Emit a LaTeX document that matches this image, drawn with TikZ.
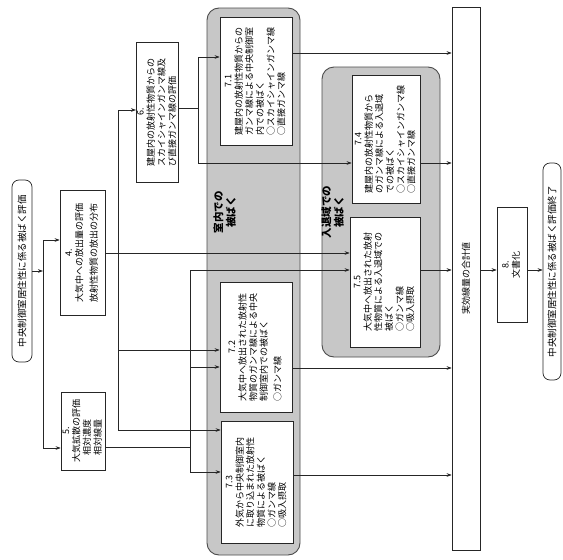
\documentclass[tikz,border=0pt]{standalone}
\usepackage{fontspec}
\setmainfont{Noto Sans CJK JP}
\usepackage{graphicx}
\usetikzlibrary{arrows.meta}
\newcommand\vtext[1]{\rotatebox{90}{\begin{tabular}{@{}l@{}}#1\end{tabular}}}
\newcommand\vctext[1]{\rotatebox{90}{\begin{tabular}{@{}c@{}}#1\end{tabular}}}
\newcommand\numc[1]{\multicolumn{1}{@{}c@{}}{#1}}
\tikzset{
  box/.style={draw=black!85, line width=0.7pt, fill=white, inner sep=0pt,
    font=\fontsize{9}{10.3}\selectfont},
  rbox/.style={box, rounded corners=7pt, font=\fontsize{9.5}{11}\selectfont},
  region/.style={draw=black!70, line width=0.9pt, fill=black!22, rounded corners=12pt, inner sep=0pt},
  rlabel/.style={font=\fontsize{10.5}{12}\selectfont\bfseries, inner sep=0pt},
  conn/.style={draw=black!85, line width=0.6pt},
  arr/.style={conn, -{Stealth[length=5pt,width=3.6pt]}},
}
\begin{document}
\begin{tikzpicture}[x=1pt,y=-1pt]
\useasboundingbox (0,0) rectangle (563,560);
\fill[white] (0,0) rectangle (563,560);

% shaded regions
\node[region, minimum width=93pt, minimum height=547pt] (r1) at (253.5,281.5) {};
\node[region, minimum width=118pt, minimum height=290pt] (r2) at (381,212) {};
\node[rlabel] (l1) at (226,212) {\vctext{室内での\\被ばく}};
\node[rlabel] (l2) at (334,212) {\vctext{入退域での\\被ばく}};

% boxes
\node[rbox, minimum width=20pt, minimum height=182pt] (start) at (22,271)
  {\rotatebox{90}{中央制御室居住性に係る被ばく評価}};
\node[box, minimum width=45pt, minimum height=125pt] (b4) at (82.5,252.5)
  {\vtext{\numc{4.}\\大気中への放出量の評価\\[4pt]放射性物質の放出の分布}};
\node[box, minimum width=44pt, minimum height=78pt] (b5) at (83,431)
  {\vtext{\numc{5.}\\大気拡散の評価\\\hspace{7pt}相対濃度\\\hspace{7pt}相対線量}};
\node[box, minimum width=41pt, minimum height=140pt] (b6) at (157.5,112)
  {\vtext{\numc{6.}\\建屋内の放射性物質からの\\スカイシャインガンマ線及\\び直接ガンマ線の評価}};
\node[box, minimum width=72pt, minimum height=128pt] (b71) at (256,81)
  {\vtext{\numc{7.1}\\建屋内の放射性物質からの\\ガンマ線による中央制御室\\内での被ばく\\○スカイシャインガンマ線\\○直接ガンマ線}};
\node[box, minimum width=72pt, minimum height=130pt] (b72) at (256,347)
  {\vtext{\numc{7.2}\\大気中へ放出された放射性\\物質のガンマ線による中央\\制御室内での被ばく\\[3pt]○ガンマ線}};
\node[box, minimum width=72pt, minimum height=122pt] (b73) at (257,482)
  {\vtext{\numc{7.3}\\外気から中央制御室内\\に取り込まれた放射性\\物質による被ばく\\○ガンマ線\\○吸入摂取}};
\node[box, minimum width=68pt, minimum height=128pt] (b74) at (386,139)
  {\vtext{\numc{7.4}\\建屋内の放射性物質から\\のガンマ線による入退域\\での被ばく\\○スカイシャインガンマ線\\○直接ガンマ線}};
\node[box, minimum width=70pt, minimum height=130pt] (b75) at (385,282)
  {\vtext{\numc{7.5}\\大気中へ放出された放射\\性物質による入退域での\\被ばく\\○ガンマ線\\○吸入摂取}};
\node[box, minimum width=28pt, minimum height=543pt] (btot) at (466,278.5)
  {\rotatebox{90}{実効線量の合計値}};
\node[box, minimum width=30pt, minimum height=115pt] (b8) at (512,264.5)
  {\vtext{\numc{8.}\\文書化}};
\node[rbox, minimum width=18pt, minimum height=217pt] (end) at (552,271.5)
  {\rotatebox{90}{中央制御室居住性に係る被ばく評価終了}};

% start branch
\coordinate (a1) at (43,240);
\coordinate (a2) at (43,448);
\draw[conn] (a1) -- (a2);
\draw[arr] (start.east) -- (start.east -| a1);
\draw[arr] (a1) -- (a1 -| b4.west);
\draw[arr] (a2) -- (a2 -| b5.west);

% from 4
\coordinate (y253) at (0,253);
\draw[arr] (b4.east |- y253) -- (b75.west |- y253);
\coordinate (c1) at (118,110);
\coordinate (c2) at (118,350);
\coordinate (c3) at (118,430);
\draw[conn] (c1) -- (c3);
\draw[arr] (c1) -- (c1 -| b6.west);
\draw[arr] (c2) -- (c2 -| b72.west);
\draw[arr] (c3) -- (c3 -| b73.west);

% from 5
\coordinate (d0) at (190,447);
\coordinate (d1) at (190,270);
\coordinate (d2) at (190,367);
\coordinate (d3) at (190,472);
\draw[conn] (b5.east |- d0) -- (d0);
\draw[conn] (d1) -- (d3);
\draw[arr] (d1) -- (d1 -| b75.west);
\draw[arr] (d2) -- (d2 -| b72.west);
\draw[arr] (d3) -- (d3 -| b73.west);

% from 6
\coordinate (e0) at (198,108);
\coordinate (e1) at (198,57);
\coordinate (e2) at (198,163);
\draw[conn] (b6.east |- e0) -- (e0);
\draw[conn] (e1) -- (e2);
\draw[arr] (e1) -- (e1 -| b71.west);
\draw[arr] (e2) -- (e2 -| b74.west);

% to total
\coordinate (o1) at (0,53);
\coordinate (o2) at (0,163);
\coordinate (o3) at (0,270);
\coordinate (o4) at (0,368);
\coordinate (o5) at (0,475);
\draw[arr] (b71.east |- o1) -- (btot.west |- o1);
\draw[arr] (b74.east |- o2) -- (btot.west |- o2);
\draw[arr] (b75.east |- o3) -- (btot.west |- o3);
\draw[arr] (b72.east |- o4) -- (btot.west |- o4);
\draw[arr] (b73.east |- o5) -- (btot.west |- o5);
\draw[arr] (btot.east |- o3) -- (b8.west |- o3);
\draw[arr] (b8.east |- o3) -- (end.west |- o3);
\end{tikzpicture}
\end{document}
